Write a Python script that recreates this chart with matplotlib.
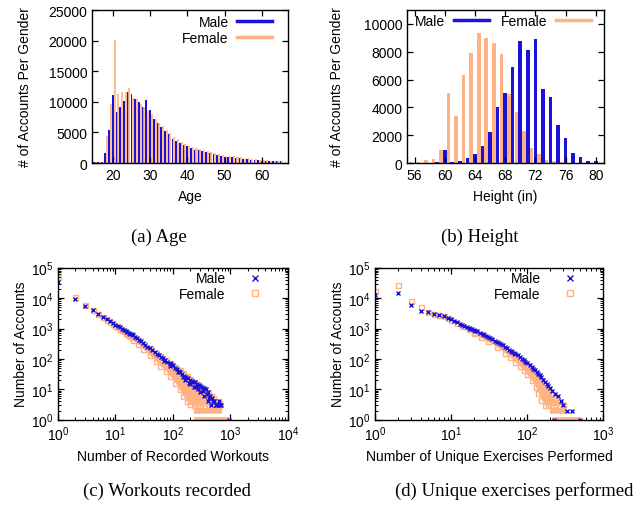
import numpy as np
import matplotlib
matplotlib.use("Agg")
import matplotlib.pyplot as plt
from matplotlib.lines import Line2D
from matplotlib.ticker import LogLocator, NullFormatter

plt.rcParams['font.family'] = ['Liberation Sans', 'DejaVu Sans']
plt.rcParams['font.size'] = 10

BLUE = '#1a12d8'
ORANGE = '#ffb382'

# (a) age histogram, thousands of accounts
ages = list(range(15, 66))
age_male = [0.1, 0.1, 0.1, 1.6, 5.4, 11.1, 8.4, 9.2, 10.1, 11.6, 11.2, 10.5, 10.0, 9.2, 10.3,
            8.6, 7.2, 6.5, 5.9, 5.3, 4.7, 4.0, 3.6, 3.3, 2.9,
            2.7, 2.4, 2.2, 2.1, 2.0, 1.8, 1.6, 1.4, 1.25, 1.1, 1.0, 0.95, 0.9, 0.8, 0.75,
            0.7, 0.6, 0.55, 0.5, 0.45, 0.4, 0.35, 0.3, 0.3, 0.25, 0.25]
age_female = [0.1, 0.1, 0.1, 4.4, 9.6, 20.1, 11.3, 11.6, 11.6, 12.2, 10.7, 10.4, 9.6, 9.2, 8.5,
              8.0, 7.2, 6.5, 6.0, 5.4, 4.9, 4.3, 3.9, 3.5, 3.1,
              2.8, 2.6, 2.4, 2.3, 2.2, 2.0, 1.85, 1.6, 1.5, 1.3, 1.2, 1.15, 1.1, 1.0, 0.9,
              0.85, 0.75, 0.7, 0.6, 0.55, 0.5, 0.45, 0.4, 0.35, 0.3, 0.3]

# (b) height histogram, thousands of accounts
heights = list(range(55, 81))
height_male = [0.02, 0.02, 0.03, 0.03, 0.05, 0.94, 0.1, 0.15, 0.35, 0.65, 1.2, 2.25, 4.0,
               5.0, 6.9, 8.75, 8.1, 8.9, 5.3, 4.75, 2.7, 1.8, 0.75, 0.43, 0.17, 0.12]
height_female = [0.05, 0.08, 0.2, 0.3, 0.9, 5.0, 3.4, 6.3, 7.9, 9.35, 9.0, 8.6, 7.85,
                 4.95, 3.7, 2.3, 1.1, 0.67, 0.2, 0.17, 0.05, 0.03, 0.02, 0.02, 0.01, 0.01]

# (c) workouts recorded: number of accounts per count
wk_n_male = [1, 2, 3, 4, 5, 6, 7, 8, 9, 10, 11, 12, 13, 14, 15, 16, 17, 18, 19, 20, 22, 24, 26,
             28, 30, 33, 36, 40, 44, 48, 52, 57, 62, 68, 74, 80, 87, 94, 100, 108, 116, 125,
             135, 145, 156, 168, 180, 195, 210, 225, 240, 260, 280, 300, 325, 350, 380, 410,
             440, 480, 520, 570, 620, 680, 960,
             70, 90, 120, 150, 200, 250, 300, 350, 400, 450, 160, 190, 230, 270, 330, 390,
             430, 500, 550, 600, 650]
wk_y_male = [33000, 9300, 5700, 4100, 3000, 2400, 2000, 1750, 1500, 1320, 1200, 1090, 990,
             910, 840, 780, 730, 680, 640, 600, 530, 470, 420, 380, 330, 290, 255, 220, 195,
             170, 150, 132, 118, 104, 92, 82, 74, 68, 62, 52, 45, 40, 36, 31, 27, 25, 23, 21,
             19, 18, 17, 15, 14, 13, 12, 11, 10, 8, 6, 5, 4, 3, 4, 3, 1,
             85, 60, 38, 25, 15, 12, 8, 6, 4, 3, 21, 16, 12, 10, 9, 7, 5, 4, 3, 3, 3]
wk_n_female = [1, 2, 3, 4, 5, 6, 7, 8, 9, 10, 11, 12, 13, 14, 15, 16, 17, 18, 19]
wk_y_female = [48000, 10700, 6000, 4200, 3000, 2350, 1950, 1650, 1400, 1200, 1080, 970, 880,
               800, 730, 670, 620, 570, 530]
wk_band_n = [20, 25, 30, 40, 50, 60, 75, 90, 110, 130, 150, 175, 200, 230, 260, 300, 350,
             400, 450, 500, 560, 620]
wk_band_hi = [520, 410, 320, 220, 160, 125, 95, 75, 55, 42, 34, 27, 22, 18, 15, 12, 10, 8,
              6, 5, 4, 3.5]
wk_band_lo = [430, 300, 215, 130, 85, 60, 40, 27, 16, 10, 6, 4, 3.2, 3, 3, 3, 3, 3, 3, 3,
              3, 3]
wk_rows_female = [(2, 230, 720), (1, 230, 950)]  # (accounts, first n, last n)

# (d) unique exercises performed
ex_n_male = [1, 2, 3, 4, 5, 6, 7, 8, 9, 10, 11, 12, 13, 14, 15, 17, 19, 21, 24, 27, 31, 35,
             40, 45, 51, 58, 64, 70, 80, 90, 100, 115, 128, 141, 155, 172, 190, 211, 235, 259,
             280, 301, 340, 386, 225, 500, 16, 18, 20, 22, 26, 29, 33, 38, 43, 48, 54, 61, 67,
             75, 85, 95, 108, 121, 134, 148, 163, 181, 200]
ex_y_male = [12600, 14700, 5900, 3900, 3400, 3100, 2850, 2600, 2300, 2100, 1750, 1600, 1400,
             1300, 1200, 1050, 950, 850, 720, 620, 520, 440, 360, 300, 250, 200, 170, 150,
             115, 92, 72, 54, 42, 33, 25, 18, 13, 9, 7, 6, 4, 3, 2, 2, 1, 1, 1120, 1000, 900,
             800, 660, 580, 480, 400, 330, 280, 230, 185, 160, 130, 100, 80, 62, 48, 38, 29,
             21, 15, 11]
ex_n_female = [1, 2, 3, 4, 5, 6, 7, 8, 9, 10, 12, 14, 17]
ex_y_female = [16600, 28000, 8200, 5100, 3500, 3100, 2800, 2500, 2200, 1950, 1550, 1250, 1000]
ex_band_n = [20, 25, 31, 40, 51, 60, 70, 80, 90, 100, 115, 130, 141, 155, 172, 190, 211, 235,
             260, 300]
ex_band_hi = [780, 640, 480, 330, 220, 170, 130, 100, 80, 62, 45, 34, 27, 20, 14, 10, 7, 5, 4, 3]
ex_band_lo = [690, 520, 380, 250, 160, 115, 82, 58, 44, 31, 20, 12, 7.5, 4.5, 3, 3, 3, 3, 3, 3]
ex_rows_female = [(2, 200, 330), (1, 220, 510)]

fig = plt.figure(figsize=(6.36, 5.06), dpi=100)


def style(ax):
    ax.tick_params(which='both', direction='in', top=True, right=True, labelsize=10)
    ax.tick_params(which='major', length=4, width=0.9)
    ax.tick_params(which='minor', length=2, width=0.7)
    for s in ax.spines.values():
        s.set_linewidth(1.0)
        s.set_zorder(5)


# ---- (a) Age
ax = fig.add_axes([92/636, 1-164/506, 196/636, 153/506])
a = np.array(ages)
ax.bar(a, np.array(age_male)*1000, width=0.5, color=BLUE, lw=0)
ax.bar(a+0.45, np.array(age_female)*1000, width=0.55, color=ORANGE, alpha=0.85, lw=0)
ax.set_xlim(14.4, 67)
ax.set_ylim(0, 25000)
ax.set_xticks([20, 30, 40, 50, 60])
ax.set_yticks(range(0, 25001, 5000))
ax.set_xlabel('Age', labelpad=5)
ax.set_ylabel('# of Accounts Per Gender', labelpad=12)
style(ax)
h = [Line2D([], [], color=BLUE, lw=2.5), Line2D([], [], color=ORANGE, lw=2.5)]
ax.legend(h, ['Male', 'Female'], loc='upper right', bbox_to_anchor=(0.96, 1.02),
          frameon=False, markerfirst=False, handlelength=2.5, handletextpad=0.6,
          labelspacing=0.1, fontsize=10, borderaxespad=0.2)

# ---- (b) Height
ax = fig.add_axes([407/636, 1-164/506, 197/636, 153/506])
hh = np.array(heights)
ax.bar(hh, np.array(height_male)*1000, width=0.48, color=BLUE, lw=0)
ax.bar(hh+0.5, np.array(height_female)*1000, width=0.48, color=ORANGE, lw=0)
ax.set_xlim(55, 81.1)
ax.set_ylim(0, 11000)
ax.set_xticks(range(56, 81, 4))
ax.set_yticks(range(0, 10001, 2000))
ax.set_xlabel('Height (in)', labelpad=5)
ax.set_ylabel('# of Accounts Per Gender', labelpad=14)
style(ax)
ax.legend(h, ['Male', 'Female'], loc='upper left', bbox_to_anchor=(0.0, 1.03), ncol=2,
          frameon=False, markerfirst=False, handlelength=2.5, handletextpad=0.6,
          columnspacing=0.9, fontsize=10, borderaxespad=0.2)


def loglog_panel(rect, n_m, y_m, n_f, y_f, band_n, band_lo, band_hi, rows, xmax, xlabel):
    ax = fig.add_axes(rect)
    ax.set_xscale('log')
    ax.set_yscale('log')
    ax.fill_between(band_n, band_lo, band_hi, color=ORANGE, lw=0, zorder=2)
    ax.plot(band_n, band_hi, 's', mfc='none', mec=ORANGE, ms=3.6, mew=1, zorder=2)
    ax.plot(band_n, band_lo, 's', mfc='none', mec=ORANGE, ms=3.6, mew=1, zorder=2)
    for yv, x0, x1 in rows:
        ax.plot([x0, x1], [yv, yv], color=ORANGE, lw=4, solid_capstyle='butt', zorder=2)
    ax.plot(n_f, y_f, 's', mfc='none', mec=ORANGE, ms=3.6, mew=1, zorder=2)
    ax.plot(n_m, y_m, 'x', color=BLUE, ms=3, mew=1, zorder=3)
    ax.set_xlim(1, xmax)
    ax.set_ylim(1, 1e5)
    ax.xaxis.set_major_locator(LogLocator(base=10, numticks=10))
    ax.yaxis.set_major_locator(LogLocator(base=10, numticks=10))
    ax.xaxis.set_minor_locator(LogLocator(base=10, subs=np.arange(2, 10), numticks=20))
    ax.yaxis.set_minor_locator(LogLocator(base=10, subs=np.arange(2, 10), numticks=20))
    ax.xaxis.set_minor_formatter(NullFormatter())
    ax.yaxis.set_minor_formatter(NullFormatter())
    ax.set_xlabel(xlabel, labelpad=4)
    ax.set_ylabel('Number of Accounts', labelpad=2)
    style(ax)
    hm = Line2D([], [], ls='none', marker='x', color=BLUE, ms=4.5, mew=1)
    hf = Line2D([], [], ls='none', marker='s', mfc='none', mec=ORANGE, ms=4.5, mew=1)
    ax.legend([hm, hf], ['Male', 'Female'], loc='upper right', bbox_to_anchor=(0.97, 1.03),
              frameon=False, markerfirst=False, handlelength=2.5, handletextpad=0.9,
              labelspacing=0.1, fontsize=10, borderaxespad=0.2)
    return ax


loglog_panel([58/636, 1-420.7/506, 230/636, 152/506], wk_n_male, wk_y_male, wk_n_female,
             wk_y_female, wk_band_n, wk_band_lo, wk_band_hi, wk_rows_female, 1e4,
             'Number of Recorded Workouts')
loglog_panel([375/636, 1-420.7/506, 228/636, 152/506], ex_n_male, ex_y_male, ex_n_female,
             ex_y_female, ex_band_n, ex_band_lo, ex_band_hi, ex_rows_female, 1e3,
             'Number of Unique Exercises Performed')

cap = dict(family=['Liberation Serif', 'DejaVu Serif'], fontsize=13.5, ha='center', va='center')
fig.text(159/636, 1-237/506, '(a) Age', **cap)
fig.text(480/636, 1-237/506, '(b) Height', **cap)
fig.text(167/636, 1-491/506, '(c) Workouts recorded', **cap)
fig.text(514/636, 1-491/506, '(d) Unique exercises performed', **cap)

fig.savefig('out.png', dpi=100)
